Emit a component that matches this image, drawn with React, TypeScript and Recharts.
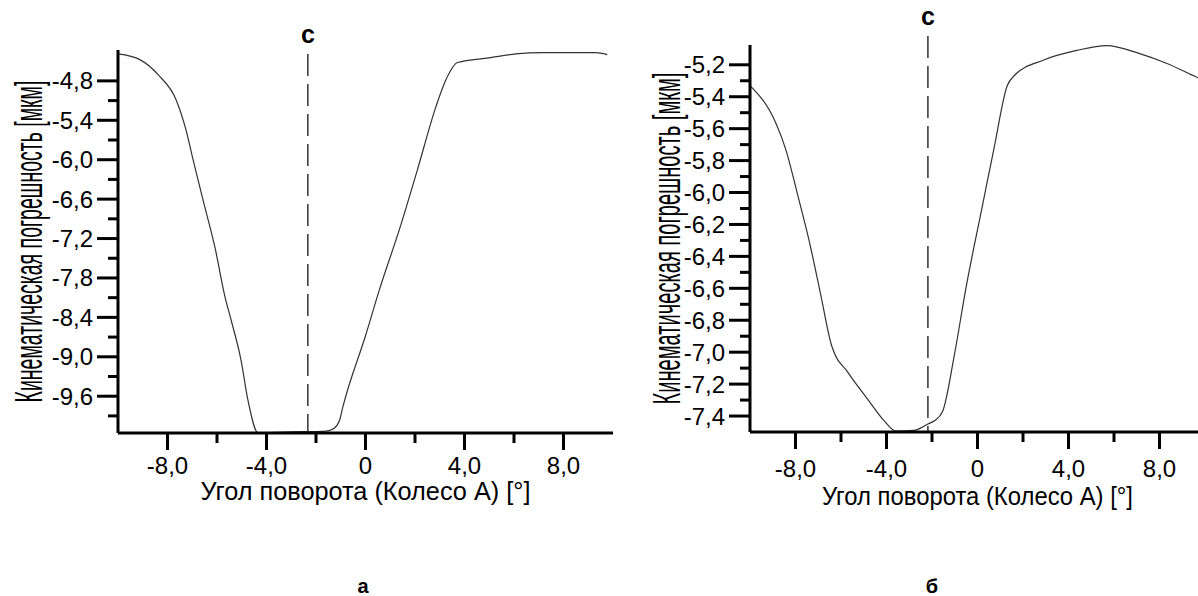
import { LineChart, Line, XAxis, YAxis, ReferenceLine } from 'recharts';

// angle of rotation, wheel A [deg]
const angleA = [-10, -9.1, -8.37, -7.65, -7.25, -6.96, -6.56, -6.08, -5.67, -5.43, -5.03, -4.75, -4.34, -3.6, -2.5, -1.6, -1.28, -1.05, -0.92, 0, 0.57, 1.38, 2.1, 2.84, 3.24, 3.72, 5.0, 6.07, 7.15, 9.29, 9.77];
const errorA = [-4.39, -4.48, -4.71, -5.09, -5.55, -6.01, -6.62, -7.34, -8.1, -8.44, -9.05, -9.66, -10.16, -10.15, -10.14, -10.13, -10.09, -9.97, -9.77, -8.68, -7.97, -7.05, -6.15, -5.2, -4.79, -4.52, -4.45, -4.39, -4.37, -4.37, -4.4];

const angleB = [-10, -8.88, -8.45, -7.86, -7.42, -6.92, -6.41, -5.68, -4.8, -4.1, -3.57, -2.8, -2.18, -1.89, -1.53, -1.02, -0.51, 0.22, 0.73, 1.31, 1.6, 2.91, 4.37, 5.68, 7.13, 8.3, 9.67, 10];
const errorB = [-5.33, -5.56, -5.72, -6.04, -6.29, -6.62, -6.96, -7.13, -7.3, -7.43, -7.495, -7.49, -7.45, -7.43, -7.37, -7.02, -6.6, -6.08, -5.72, -5.33, -5.27, -5.17, -5.11, -5.08, -5.13, -5.19, -5.28, -5.3];

const xTicks = [-8, -6, -4, -2, 0, 2, 4, 6, 8];
const xMajor = [-8, -4, 0, 4, 8];

const yTicksA = [-9.9, -9.6, -9.3, -9.0, -8.7, -8.4, -8.1, -7.8, -7.5, -7.2, -6.9, -6.6, -6.3, -6.0, -5.7, -5.4, -5.1, -4.8];
const yMajorA = [-9.6, -9.0, -8.4, -7.8, -7.2, -6.6, -6.0, -5.4, -4.8];

const yTicksB = [-7.4, -7.3, -7.2, -7.1, -7.0, -6.9, -6.8, -6.7, -6.6, -6.5, -6.4, -6.3, -6.2, -6.1, -6.0, -5.9, -5.8, -5.7, -5.6, -5.5, -5.4, -5.3, -5.2];
const yMajorB = [-7.4, -7.2, -7.0, -6.8, -6.6, -6.4, -6.2, -6.0, -5.8, -5.6, -5.4, -5.2];

const markA = -2.33;
const markB = -2.18;

const FONT = '"Liberation Sans", Arial, sans-serif';
const xTitle = 'Угол поворота (Колесо А) [°]';
const yTitle = 'Кинематическая погрешность [мкм]';

const fmt = (v: number) => (Math.abs(v) < 1e-9 ? '0' : v.toFixed(1).replace('.', ','));
const isIn = (list: number[], v: number) => list.some((m) => Math.abs(m - v) < 1e-6);

// natural width of a string, used to squeeze titles to the reference length
const measure = (s: string, size: number) => {
  const ctx = document.createElement('canvas').getContext('2d');
  if (!ctx) return s.length * size * 0.5;
  ctx.font = `${size}px "Liberation Sans", Arial, sans-serif`;
  return ctx.measureText(s).width;
};

const XTick = (props: any) => {
  const { x, y, payload, dy } = props;
  const major = isIn(xMajor, payload.value);
  return (
    <g>
      <line x1={x} y1={y} x2={x} y2={y + (major ? 17 : 10)} stroke="#000" strokeWidth={3} />
      {major && (
        <text x={x} y={y + dy} textAnchor="middle" fontSize={24} fontFamily={FONT} fill="#000">
          {fmt(payload.value)}
        </text>
      )}
    </g>
  );
};

const YTick = (props: any) => {
  const { x, y, payload, majors } = props;
  const major = isIn(majors, payload.value);
  return (
    <g>
      <line x1={x - (major ? 21 : 10)} y1={y} x2={x} y2={y} stroke="#000" strokeWidth={3} />
      {major && (
        <text x={x - 25} y={y + 8.5} textAnchor="end" fontSize={24} fontFamily={FONT} fill="#000">
          {fmt(payload.value)}
        </text>
      )}
    </g>
  );
};

const XTitle = (props: any) => {
  const { viewBox, dy, len } = props;
  const cx = viewBox.x + viewBox.width / 2;
  const k = len / measure(xTitle, 25);
  return (
    <text transform={`translate(${cx}, ${viewBox.y + dy}) scale(${k}, 1)`} textAnchor="middle"
      fontSize={25} fontFamily={FONT} fill="#000">
      {xTitle}
    </text>
  );
};

const YTitle = (props: any) => {
  const { viewBox, dx, len } = props;
  const bx = viewBox.x + dx;
  const cy = viewBox.y + viewBox.height / 2;
  const k = len / measure(yTitle, 38);
  return (
    <text transform={`translate(${bx}, ${cy}) rotate(-90) scale(${k}, 1)`} textAnchor="middle"
      fontSize={38} fontFamily={FONT} fill="#000">
      {yTitle}
    </text>
  );
};

const CMark = (props: any) => {
  const { viewBox } = props;
  return (
    <text x={viewBox.x} y={viewBox.y - 11} textAnchor="middle" fontSize={25} fontWeight="bold"
      fontFamily={FONT} fill="#000">
      c
    </text>
  );
};

const toRows = (xs: number[], ys: number[]) => xs.map((x, i) => ({ x, y: ys[i] }));

const Panel = (p: any) => (
  <LineChart width={p.width} height={596} data={p.data} margin={p.margin}>
    <XAxis
      dataKey="x"
      type="number"
      domain={[-10, 10]}
      ticks={xTicks}
      interval={0}
      allowDataOverflow
      height={p.xHeight}
      tickSize={0}
      tickMargin={0}
      tickLine={false}
      axisLine={{ stroke: '#000', strokeWidth: 3 }}
      tick={(t: any) => <XTick {...t} dy={p.xTickDy} />}
      label={<XTitle dy={p.xTitleDy} len={p.xTitleLen} />}
    />
    <YAxis
      type="number"
      domain={p.yDomain}
      ticks={p.yTicks}
      interval={0}
      allowDataOverflow
      width={80}
      tickSize={0}
      tickMargin={0}
      tickLine={false}
      axisLine={{ stroke: '#000', strokeWidth: 3 }}
      tick={(t: any) => <YTick {...t} majors={p.yMajor} />}
      label={<YTitle dx={p.yTitleDx} len={p.yTitleLen} />}
    />
    <ReferenceLine
      segment={[{ x: p.mark, y: p.markTop }, { x: p.mark, y: p.yDomain[0] }]}
      ifOverflow="visible"
      stroke="#333"
      strokeWidth={1.5}
      strokeDasharray="22 8"
      label={<CMark />}
    />
    <Line
      type="monotoneX"
      dataKey="y"
      stroke="#333"
      strokeWidth={1.2}
      dot={false}
      isAnimationActive={false}
    />
  </LineChart>
);

export default function App() {
  return (
    <div style={{ position: 'fixed', left: 0, top: 0, width: 1198, height: 596, overflow: 'hidden', background: '#fff' }}>
      <div style={{ position: 'absolute', left: 0, top: 0 }}>
        <Panel
          width={640}
          data={toRows(angleA, errorA)}
          margin={{ top: 50, right: 27, bottom: 0, left: 38 }}
          xHeight={163}
          xTickDy={41}
          xTitleDy={67}
          xTitleLen={330}
          yDomain={[-10.16, -4.33]}
          yTicks={yTicksA}
          yMajor={yMajorA}
          yTitleDx={4}
          yTitleLen={322}
          mark={markA}
          markTop={-4.39}
        />
      </div>
      <div style={{ position: 'absolute', left: 640, top: 0 }}>
        <Panel
          width={600}
          data={toRows(angleB, errorB)}
          margin={{ top: 45, right: 35, bottom: 0, left: 30 }}
          xHeight={164}
          xTickDy={45}
          xTitleDy={73}
          xTitleLen={311}
          yDomain={[-7.5, -5.076]}
          yTicks={yTicksB}
          yMajor={yMajorB}
          yTitleDx={10}
          yTitleLen={332}
          mark={markB}
          markTop={-5.02}
        />
      </div>
      <div style={{ position: 'absolute', left: 363, top: 574, transform: 'translateX(-50%)', fontFamily: FONT, fontWeight: 'bold', fontSize: 20, lineHeight: '24px' }}>а</div>
      <div style={{ position: 'absolute', left: 932, top: 574, transform: 'translateX(-50%)', fontFamily: FONT, fontWeight: 'bold', fontSize: 20, lineHeight: '24px' }}>б</div>
    </div>
  );
}
